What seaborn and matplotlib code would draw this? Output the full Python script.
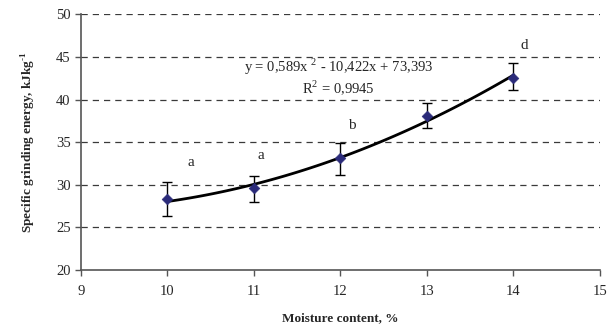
import numpy as np
import pandas as pd
import matplotlib
matplotlib.use("Agg")
import matplotlib.pyplot as plt
import seaborn as sns

moisture = [10, 11, 12, 13, 14]
energy = [28.3, 29.6, 33.1, 38.1, 42.6]
err_low = [26.4, 28.0, 31.15, 36.7, 41.1]
err_high = [30.3, 31.0, 34.9, 39.6, 44.3]
letters = ["a", "a", "b", "", "d"]
letter_x = [10.27, 11.08, 12.13, 13.0, 14.13]
letter_y = [32.6, 33.5, 37.0, 0, 46.4]
equation = "y = 0,589x $^{2}$ - 10,422x + 73,393"
r2_text = "R$^{2}$ = 0,9945"

sns.set_style("white")
plt.rcParams['font.family'] = ['Liberation Serif', 'DejaVu Serif']
plt.rcParams['mathtext.fontset'] = 'custom'
plt.rcParams['mathtext.rm'] = 'Liberation Serif'
plt.rcParams['mathtext.bf'] = 'Liberation Serif:bold'

df = pd.DataFrame({"moisture": moisture, "energy": energy})

fig = plt.figure(figsize=(6.15, 3.33), dpi=100)
ax = fig.add_axes([0.1317, 0.189, 0.8439, 0.7675])

for yv in [25, 30, 35, 40, 45, 50]:
    ax.axhline(yv, color="#3a3a3a", lw=0.9, ls=(0, (5, 4)), zorder=0)

sns.regplot(data=df, x="moisture", y="energy", order=2, ci=None, scatter=False,
            truncate=True, line_kws=dict(color="black", lw=2), ax=ax)

yerr = [np.array(energy) - np.array(err_low), np.array(err_high) - np.array(energy)]
ax.errorbar(moisture, energy, yerr=yerr, fmt="none", ecolor="black", elinewidth=1,
            capsize=3.8, capthick=1, zorder=3)
sns.scatterplot(data=df, x="moisture", y="energy", marker="D", color="#2b2b7a",
                s=30, edgecolor="#2b2b7a", zorder=4, ax=ax)

for t, lx, ly in zip(letters, letter_x, letter_y):
    if t:
        ax.text(lx, ly, t, ha="center", va="center", fontsize=11)

ax.text(11.98, 43.8, equation, ha="center", va="center", fontsize=10.5)
ax.text(11.98, 41.4, r2_text, ha="center", va="center", fontsize=10.5)

ax.set_xlim(9, 15)
ax.set_ylim(20, 50)
ax.set_xticks([9, 10, 11, 12, 13, 14, 15])
ax.set_yticks([20, 25, 30, 35, 40, 45, 50])
ax.tick_params(axis="both", labelsize=10.5, length=4, width=1, color="#555555",
               direction="out", bottom=True, left=True)
ax.tick_params(axis="x", pad=7)
for s in ["top", "right"]:
    ax.spines[s].set_visible(False)
for s in ["left", "bottom"]:
    ax.spines[s].set_color("#555555")
    ax.spines[s].set_linewidth(1.2)

ax.set_xlabel("Moisture content, %", fontsize=9.5, fontweight="bold", labelpad=10)
ax.set_ylabel("Specific grinding energy, kJkg$^{\\mathbf{\\text{-}1}}$", fontsize=9.5,
              fontweight="bold", labelpad=13)

fig.savefig("out.png", dpi=100)
